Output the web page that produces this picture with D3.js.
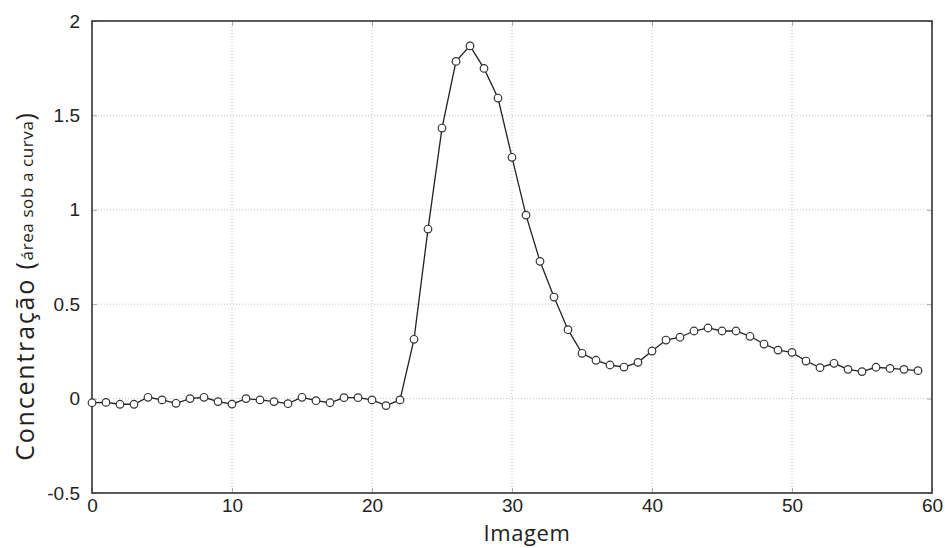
<!DOCTYPE html>
<html lang="pt">
<head>
<meta charset="utf-8" />
<title>Concentração</title>
<script src="https://d3js.org/d3.v7.min.js"></script>
<style>
    body { margin: 0; background: #fff; }
</style>
</head>
<body>
<script>
    var w = 945;
    var h = 548;
    var margin = { top: 21, right: 13, bottom: 55, left: 92 };

    // data
    var images = d3.range(0, 60);
    var concentration = [
        -0.022, -0.020, -0.030, -0.030, 0.007, -0.007, -0.025, 0.000, 0.007, -0.016,
        -0.029, 0.000, -0.007, -0.016, -0.027, 0.007, -0.011, -0.022, 0.005, 0.005,
        -0.007, -0.037, -0.007, 0.314, 0.898, 1.433, 1.786, 1.868, 1.749, 1.592,
        1.278, 0.972, 0.727, 0.538, 0.365, 0.240, 0.203, 0.178, 0.167, 0.192,
        0.252, 0.310, 0.325, 0.358, 0.374, 0.358, 0.358, 0.330, 0.289, 0.257,
        0.245, 0.199, 0.164, 0.187, 0.155, 0.143, 0.166, 0.160, 0.155, 0.148
    ];
    var xTicks = [0, 10, 20, 30, 40, 50, 60];
    var yTicks = [-0.5, 0, 0.5, 1, 1.5, 2];

    var svg = d3.select("body")
        .append("svg")
        .attr("width", w)
        .attr("height", h);

    var x = d3.scaleLinear()
        .domain([0, 60])
        .range([margin.left, w - margin.right]);

    var y = d3.scaleLinear()
        .domain([-0.5, 2])
        .range([h - margin.bottom, margin.top]);

    // grid
    svg.append("g")
        .selectAll("line")
        .data(xTicks.slice(1, -1))
        .enter()
        .append("line")
        .attr("x1", function (d) { return x(d); })
        .attr("x2", function (d) { return x(d); })
        .attr("y1", y(-0.5))
        .attr("y2", y(2))
        .attr("stroke", "#c4c4c4")
        .attr("stroke-width", 1)
        .attr("stroke-dasharray", "1,2");

    svg.append("g")
        .selectAll("line")
        .data(yTicks.slice(1, -1))
        .enter()
        .append("line")
        .attr("x1", x(0))
        .attr("x2", x(60))
        .attr("y1", function (d) { return y(d); })
        .attr("y2", function (d) { return y(d); })
        .attr("stroke", "#c4c4c4")
        .attr("stroke-width", 1)
        .attr("stroke-dasharray", "1,2");

    // axes, ticks pointing inwards
    svg.append("g")
        .attr("transform", "translate(0," + y(-0.5) + ")")
        .call(d3.axisBottom(x).tickValues(xTicks).tickSize(-5).tickPadding(6).tickFormat(d3.format("d")));

    svg.append("g")
        .attr("transform", "translate(0," + y(2) + ")")
        .call(d3.axisTop(x).tickValues(xTicks).tickSize(-5).tickFormat(""));

    svg.append("g")
        .attr("transform", "translate(" + x(0) + ",0)")
        .call(d3.axisLeft(y).tickValues(yTicks).tickSize(-5).tickPadding(12).tickFormat(function (d) { return d; }));

    svg.append("g")
        .attr("transform", "translate(" + x(60) + ",0)")
        .call(d3.axisRight(y).tickValues(yTicks).tickSize(-5).tickFormat(""));

    svg.selectAll(".domain").remove();
    svg.selectAll(".tick line").attr("stroke", "#aaa");
    svg.selectAll(".tick text")
        .attr("font-family", "'Liberation Sans', Arial, sans-serif")
        .attr("font-size", "19px")
        .attr("fill", "#222");

    // frame
    svg.append("rect")
        .attr("x", x(0))
        .attr("y", y(2))
        .attr("width", x(60) - x(0))
        .attr("height", y(-0.5) - y(2))
        .attr("fill", "none")
        .attr("stroke", "#333")
        .attr("stroke-width", 1.6);

    // line + markers
    var line = d3.line()
        .x(function (d, i) { return x(images[i]); })
        .y(function (d) { return y(d); });

    svg.append("path")
        .datum(concentration)
        .attr("d", line)
        .attr("fill", "none")
        .attr("stroke", "#222")
        .attr("stroke-width", 1.3);

    svg.append("g")
        .selectAll("circle")
        .data(concentration)
        .enter()
        .append("circle")
        .attr("cx", function (d, i) { return x(images[i]); })
        .attr("cy", function (d) { return y(d); })
        .attr("r", 3.8)
        .attr("fill", "#fff")
        .attr("stroke", "#333")
        .attr("stroke-width", 1.2);

    // titles
    svg.append("text")
        .attr("x", 527)
        .attr("y", 541)
        .attr("text-anchor", "middle")
        .attr("font-family", "'Open Sans', sans-serif")
        .attr("font-size", "22px")
        .attr("letter-spacing", "0.6px")
        .attr("fill", "#222")
        .text("Imagem");

    var yTitle = svg.append("text")
        .attr("transform", "translate(34,287) rotate(-90)")
        .attr("text-anchor", "middle")
        .attr("font-family", "'Open Sans', sans-serif")
        .attr("fill", "#222")
        .attr("font-size", "25px");
    yTitle.append("tspan").attr("letter-spacing", "1.8px").text("Concentração (");
    yTitle.append("tspan").attr("font-size", "17px").attr("letter-spacing", "0.6px").attr("dy", "-1").text("área sob a curva");
    yTitle.append("tspan").attr("dy", "1").text(")");
</script>
</body>
</html>
